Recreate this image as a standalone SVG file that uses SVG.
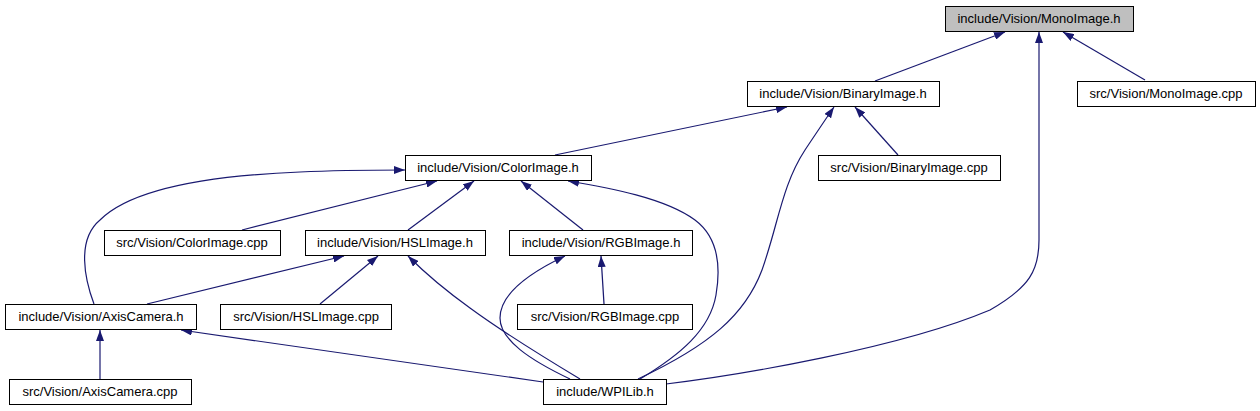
<svg xmlns="http://www.w3.org/2000/svg" width="1260" height="411" viewBox="0 0 1260 411">
<style>
.node rect{fill:#ffffff;stroke:#000000;stroke-width:1}
.node.root rect{fill:#bfbfbf}
.node text{font-family:"Liberation Sans",Arial,sans-serif;font-size:13px;fill:#000000;text-anchor:middle}
#edges path{fill:none;stroke:#191970;stroke-width:1.2;marker-end:url(#arr)}
</style>
<defs>
<marker id="arr" viewBox="0 0 11 8" markerUnits="userSpaceOnUse" markerWidth="11" markerHeight="8" refX="11" refY="4" orient="auto">
<path d="M0,0 L11,4 L0,8 z" fill="#191970"/>
</marker>
</defs>
<rect x="0" y="0" width="1260" height="411" fill="#ffffff"/>
<g id="edges">
<path d="M875,81 L1005,32"/>
<path d="M666,384 C740,375 900,348 990,310 C1030,287 1039,270 1039,240 L1039,32"/>
<path d="M1145,80 L1063,32"/>
<path d="M555,155 L787,107"/>
<path d="M638,379 C710,345 745,315 762,270 C778,225 782,185 805,150 C815,135 825,120 834,107"/>
<path d="M898,155 L855,107"/>
<path d="M94,304 C85,280 76,240 100,220 C130,190 200,176 300,172 C340,170 380,170 405,170"/>
<path d="M242,230 L437,181"/>
<path d="M408,230 L474,181"/>
<path d="M583,230 L521,181"/>
<path d="M640,379 C680,355 710,330 716,295 C722,260 715,235 695,220 C665,198 610,188 568,181"/>
<path d="M147,304 L344,256"/>
<path d="M320,304 L378,256"/>
<path d="M580,379 C540,355 500,330 470,308 C445,290 425,273 408,256"/>
<path d="M570,379 C530,360 500,340 500,318 C500,295 525,275 565,256"/>
<path d="M604,304 L601,256"/>
<path d="M100,379 L100,330"/>
<path d="M543,382 L181,330"/>
</g>
<g id="n_mono" class="node root"><rect x="945.5" y="6.5" width="188" height="25"/><text x="1039" y="23">include/Vision/MonoImage.h</text></g>
<g id="n_monocpp" class="node"><rect x="1077.5" y="81.5" width="178" height="25"/><text x="1166" y="98">src/Vision/MonoImage.cpp</text></g>
<g id="n_binary" class="node"><rect x="747.5" y="81.5" width="192" height="25"/><text x="843" y="98">include/Vision/BinaryImage.h</text></g>
<g id="n_binarycpp" class="node"><rect x="818.5" y="155.5" width="182" height="25"/><text x="909" y="172">src/Vision/BinaryImage.cpp</text></g>
<g id="n_color" class="node"><rect x="405.5" y="155.5" width="186" height="25"/><text x="498" y="172">include/Vision/ColorImage.h</text></g>
<g id="n_colorcpp" class="node"><rect x="104.5" y="230.5" width="176" height="25"/><text x="192" y="247">src/Vision/ColorImage.cpp</text></g>
<g id="n_hsl" class="node"><rect x="305.5" y="230.5" width="180" height="25"/><text x="395" y="247">include/Vision/HSLImage.h</text></g>
<g id="n_rgb" class="node"><rect x="509.5" y="230.5" width="183" height="25"/><text x="601" y="247">include/Vision/RGBImage.h</text></g>
<g id="n_axis" class="node"><rect x="5.5" y="304.5" width="191" height="25"/><text x="101" y="321">include/Vision/AxisCamera.h</text></g>
<g id="n_hslcpp" class="node"><rect x="220.5" y="304.5" width="171" height="25"/><text x="306" y="321">src/Vision/HSLImage.cpp</text></g>
<g id="n_rgbcpp" class="node"><rect x="517.5" y="304.5" width="175" height="25"/><text x="605" y="321">src/Vision/RGBImage.cpp</text></g>
<g id="n_axiscpp" class="node"><rect x="9.5" y="379.5" width="182" height="25"/><text x="100" y="396">src/Vision/AxisCamera.cpp</text></g>
<g id="n_wpilib" class="node"><rect x="543.5" y="379.5" width="123" height="25"/><text x="605" y="396">include/WPILib.h</text></g>
</svg>
